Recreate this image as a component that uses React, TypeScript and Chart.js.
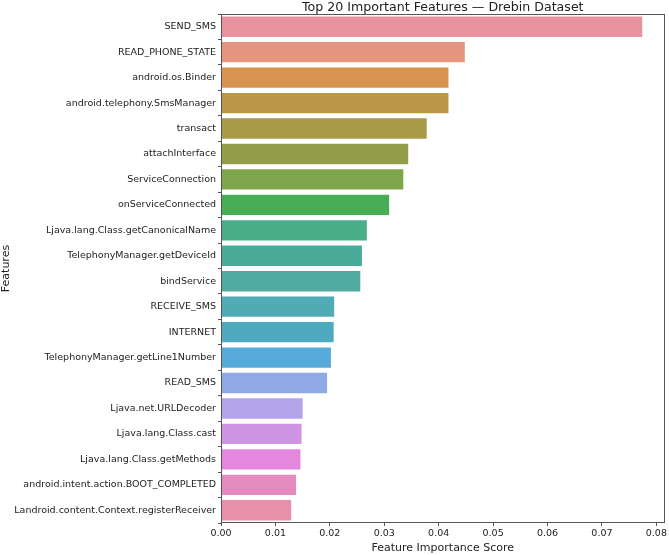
import React, { useEffect, useRef } from "react";
import { Chart, registerables } from "chart.js";

Chart.register(...registerables);

const features = [
  "SEND_SMS",
  "READ_PHONE_STATE",
  "android.os.Binder",
  "android.telephony.SmsManager",
  "transact",
  "attachInterface",
  "ServiceConnection",
  "onServiceConnected",
  "Ljava.lang.Class.getCanonicalName",
  "TelephonyManager.getDeviceId",
  "bindService",
  "RECEIVE_SMS",
  "INTERNET",
  "TelephonyManager.getLine1Number",
  "READ_SMS",
  "Ljava.net.URLDecoder",
  "Ljava.lang.Class.cast",
  "Ljava.lang.Class.getMethods",
  "android.intent.action.BOOT_COMPLETED",
  "Landroid.content.Context.registerReceiver",
];

const importance = [
  0.0774, 0.0448, 0.0418, 0.0418, 0.0378, 0.0344, 0.0335, 0.0309, 0.0268, 0.0259,
  0.0256, 0.0208, 0.0207, 0.0202, 0.0195, 0.015, 0.0148, 0.0146, 0.0138, 0.0129,
];

const barColors = [
  "#e8929f", "#e69580", "#d7934f", "#bc9747", "#a89a46",
  "#949d47", "#7ea64a", "#48ae55", "#4bae8a", "#4bab99",
  "#4fab9f", "#4facb4", "#4eaabf", "#56abdb", "#8fa9e6",
  "#b3a3ea", "#cc94e2", "#e687df", "#e68bc0", "#e88fab",
];

const xTicks = [0, 0.01, 0.02, 0.03, 0.04, 0.05, 0.06, 0.07, 0.08];

const titleText = "Top 20 Important Features \u2014 Drebin Dataset";
const xLabel = "Feature Importance Score";
const yLabel = "Features";

const FONT = "'DejaVu Sans', sans-serif";

const titlePlugin = {
  id: "axesTitleAndFrame",
  afterDraw(chart: any) {
    const { ctx, chartArea } = chart;
    ctx.save();
    ctx.strokeStyle = "#555";
    ctx.lineWidth = 1;
    ctx.strokeRect(
      Math.round(chartArea.left) + 0.5,
      Math.round(chartArea.top) + 0.5,
      Math.round(chartArea.right - chartArea.left) - 1,
      Math.round(chartArea.bottom - chartArea.top) - 1
    );
    ctx.fillStyle = "#222";
    ctx.font = `12.6px ${FONT}`;
    ctx.textAlign = "center";
    ctx.textBaseline = "alphabetic";
    ctx.fillText(titleText, (chartArea.left + chartArea.right) / 2, 11);
    ctx.restore();
  },
};

export default function App() {
  const canvasRef = useRef<HTMLCanvasElement | null>(null);

  useEffect(() => {
    document.body.style.margin = "0";
    const canvas = canvasRef.current;
    if (!canvas) return;
    const chart = new Chart(canvas, {
      type: "bar",
      data: {
        labels: features,
        datasets: [
          {
            data: importance,
            backgroundColor: barColors,
            borderWidth: 0,
            barPercentage: 0.8,
            categoryPercentage: 1.0,
          },
        ],
      },
      options: {
        indexAxis: "y",
        animation: false,
        responsive: false,
        maintainAspectRatio: false,
        layout: { padding: { top: 14, right: 4, bottom: 0, left: 0 } },
        plugins: {
          legend: { display: false },
          tooltip: { enabled: false },
          title: { display: false },
        },
        scales: {
          x: {
            type: "linear",
            min: 0,
            max: 0.0815,
            afterBuildTicks: (scale: any) => {
              scale.ticks = xTicks.map((v) => ({ value: v }));
            },
            afterFit: (scale: any) => {
              scale.height = 32;
            },
            grid: {
              display: true,
              drawOnChartArea: false,
              drawTicks: true,
              tickLength: 3,
              color: "#555",
            },
            border: { display: false },
            ticks: {
              autoSkip: false,
              maxRotation: 0,
              padding: 2,
              color: "#222",
              font: { family: FONT, size: 9.5 },
              callback: (v: any) => Number(v).toFixed(2),
            },
            title: {
              display: true,
              text: xLabel,
              color: "#222",
              font: { family: FONT, size: 11 },
              padding: { top: 0, bottom: 0 },
            },
          },
          y: {
            type: "category",
            afterFit: (scale: any) => {
              scale.width = 221;
            },
            grid: {
              display: true,
              drawOnChartArea: false,
              drawTicks: true,
              tickLength: 3,
              color: "#555",
            },
            border: { display: false },
            ticks: {
              autoSkip: false,
              padding: 2,
              color: "#222",
              font: { family: FONT, size: 9.5 },
            },
            title: {
              display: true,
              text: yLabel,
              color: "#222",
              font: { family: FONT, size: 11 },
              padding: { top: 0, bottom: 0 },
            },
          },
        },
      },
      plugins: [titlePlugin],
    });
    return () => chart.destroy();
  }, []);

  return (
    <div style={{ width: 669, height: 555, position: "relative", background: "#fff" }}>
      <canvas ref={canvasRef} width={669} height={555} style={{ display: "block" }} />
    </div>
  );
}
